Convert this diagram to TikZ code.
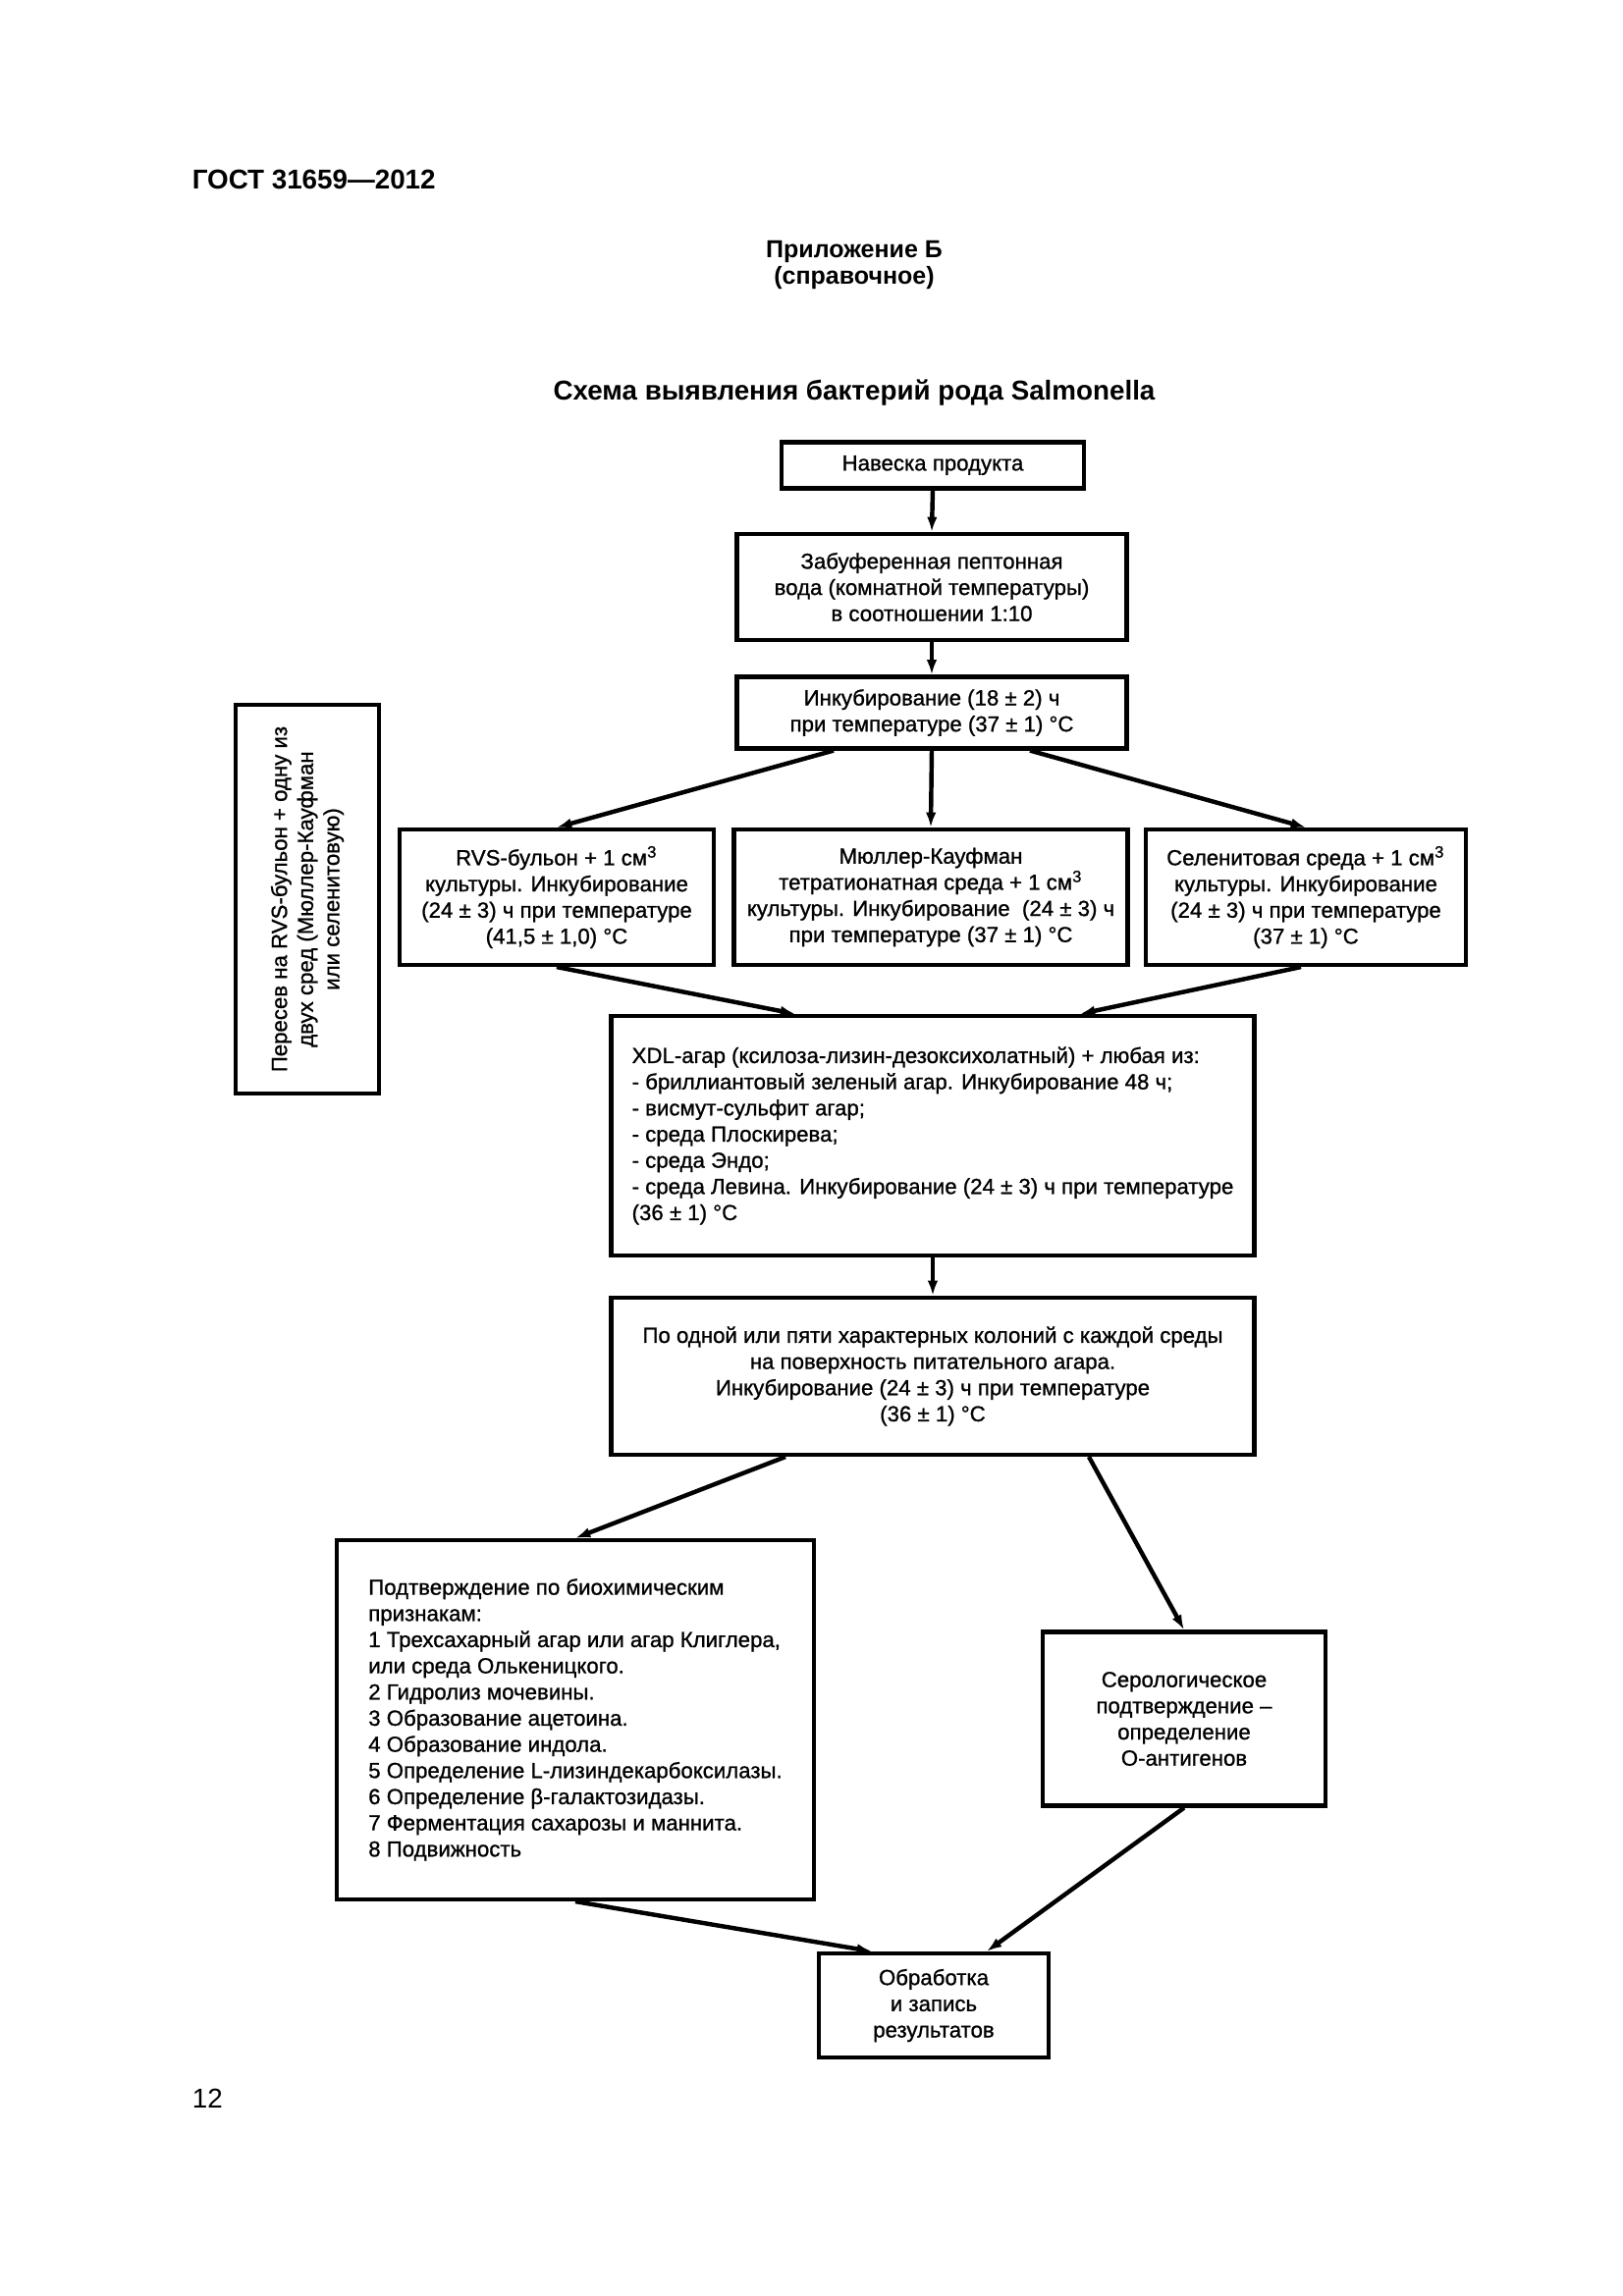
\documentclass[tikz,border=0pt]{standalone}
\usepackage{fontspec}
\setmainfont{Liberation Sans}
\newfontfamily\boxfont{Liberation Sans}[RawFeature={embolden=1.0}]
\usetikzlibrary{arrows.meta,calc}
\begin{document}
\begin{tikzpicture}[x=0.36pt,y=-0.36pt,
  box/.style={draw, line width=1.5pt, inner sep=2pt, align=center, font=\boxfont\fontsize{8}{9.6}\selectfont},
  sz/.style 2 args={minimum width=#1*0.36pt, minimum height=#2*0.36pt},
  arr/.style={line width=1.6pt, -{Latex[length=5.5pt,width=3.8pt]}},
  hdr/.style={font=\bfseries\fontsize{10}{12}\selectfont}]
\useasboundingbox (0,0) rectangle (1653,2339);
% headers
\node[hdr, anchor=west] (gost) at (186,183) {ГОСТ 31659—2012};
\node[font=\bfseries\fontsize{9}{9.6}\selectfont, align=center] (app) at (870,270) {Приложение Б\\(справочное)};
\node[hdr] (title) at (870,400) {Схема выявления бактерий рода Salmonella};
\node[anchor=west, font=\fontsize{10}{12}\selectfont] (pg) at (186,2138) {12};
% boxes
\node[box, sz={308}{47}] (b1) at (950,474) {Навеска продукта};
\node[box, sz={397}{108}] (b2) at (949,598) {Забуференная пептонная\\вода (комнатной температуры)\\в соотношении 1:10};
\node[box, sz={397}{73}] (b3) at (949,726) {Инкубирование (18 ± 2) ч\\при температуре (37 ± 1) °С};
\node[box, sz={396}{146}, rotate=90] (side) at (313,916) {Пересев на RVS-бульон + одну из\\двух сред (Мюллер-Кауфман\\или селенитовую)};
\node[box, sz={320}{138}] (rvs) at (567,914) {RVS-бульон + 1 см\textsuperscript{3}\\культуры. Инкубирование\\(24 ± 3) ч при температуре\\(41,5 ± 1,0) °С};
\node[box, sz={401}{138}] (mul) at (948,914) {Мюллер-Кауфман\\тетратионатная среда + 1 см\textsuperscript{3}\\культуры. Инкубирование\ \ (24 ± 3) ч\\при температуре (37 ± 1) °С};
\node[box, sz={326}{138}] (sel) at (1330,914) {Селенитовая среда + 1 см\textsuperscript{3}\\культуры. Инкубирование\\(24 ± 3) ч при температуре\\(37 ± 1) °С};
\node[box, sz={655}{244}, align=left] (xdl) at (950,1157) {XDL-агар (ксилоза-лизин-дезоксихолатный) + любая из:\\- бриллиантовый зеленый агар. Инкубирование 48 ч;\\- висмут-сульфит агар;\\- среда Плоскирева;\\- среда Эндо;\\- среда Левина. Инкубирование (24 ± 3) ч при температуре\\(36 ± 1) °С};
\node[box, sz={655}{160}] (po) at (950,1402) {По одной или пяти характерных колоний с каждой среды\\на поверхность питательного агара.\\Инкубирование (24 ± 3) ч при температуре\\(36 ± 1) °С};
\node[box, sz={486}{366}, align=left] (bio) at (586,1752) {Подтверждение по биохимическим\\признакам:\\1 Трехсахарный агар или агар Клиглера,\\или среда Олькеницкого.\\2 Гидролиз мочевины.\\3 Образование ацетоина.\\4 Образование индола.\\5 Определение L-лизиндекарбоксилазы.\\6 Определение β-галактозидазы.\\7 Ферментация сахарозы и маннита.\\8 Подвижность};
\node[box, sz={288}{177}] (ser) at (1206,1751) {Серологическое\\подтверждение –\\определение\\О-антигенов};
\node[box, sz={234}{106}] (fin) at (951,2043) {Обработка\\и запись\\результатов};
% connectors
\draw[arr] (b1.south) -- (b2.north);
\draw[arr] (b2.south) -- (b3.north);
\draw[arr] ($(b3.south)+(-100,0)$) -- (rvs.north);
\draw[arr] (b3.south) -- (mul.north);
\draw[arr] ($(b3.south)+(100,0)$) -- (sel.north);
\draw[arr] (rvs.south) -- ($(xdl.north)+(-140,0)$);
\draw[arr] ($(sel.south)+(-5,0)$) -- ($(xdl.north)+(150,0)$);
\draw[arr] (xdl.south) -- (po.north);
\draw[arr] ($(po.south)+(-150,0)$) -- (bio.north);
\draw[arr] ($(po.south)+(159,0)$) -- (ser.north);
\draw[arr] (bio.south) -- ($(fin.north)+(-63,0)$);
\draw[arr] (ser.south) -- ($(fin.north)+(54,0)$);
\end{tikzpicture}
\end{document}
